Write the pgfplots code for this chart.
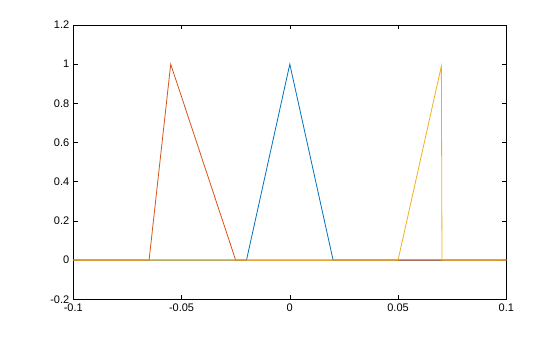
\documentclass[border=0pt]{standalone}
\usepackage{pgfplots}
\pgfplotsset{compat=1.18}
\usepackage{fontspec}
\setmainfont{Liberation Sans}
\definecolor{mblue}{rgb}{0,0.447,0.741}
\definecolor{morange}{rgb}{0.85,0.325,0.098}
\definecolor{myellow}{rgb}{0.929,0.694,0.125}
\begin{document}
\begin{tikzpicture}
\begin{axis}[
  scale only axis,
  width=433pt, height=274.3pt,
  xmin=-0.1, xmax=0.1, ymin=-0.2, ymax=1.2,
  xtick={-0.1,-0.05,0,0.05,0.1},
  xticklabels={-0.1,-0.05,0,0.05,0.1},
  ytick={-0.2,0,0.2,0.4,0.6,0.8,1,1.2},
  yticklabels={-0.2,0,0.2,0.4,0.6,0.8,1,1.2},
  tick align=inside,
  major tick length=4.5pt,
  tick style={black, line width=0.5pt},
  axis line style={black, line width=0.5pt},
  tick label style={font=\fontsize{11}{13}\selectfont},
  xticklabel style={yshift=-1pt},
  yticklabel style={xshift=-0.5pt},
]
\addplot[mblue, line width=0.8pt] coordinates {(-0.1,0) (-0.02,0) (0,1) (0.02,0) (0.1,0)};
\addplot[morange, line width=0.8pt] coordinates {(-0.1,0) (-0.065,0) (-0.055,1) (-0.025,0) (0.1,0)};
\addplot[myellow, line width=0.8pt] coordinates {(-0.1,0) (0.05,0) (0.07,0.99) (0.0703,0) (0.1,0)};
\end{axis}
\draw[draw=none] ([shift={(-73.3pt,-37.7pt)}]current axis.south west) rectangle ([shift={(53.7pt,25pt)}]current axis.north east);
\end{tikzpicture}
\end{document}
